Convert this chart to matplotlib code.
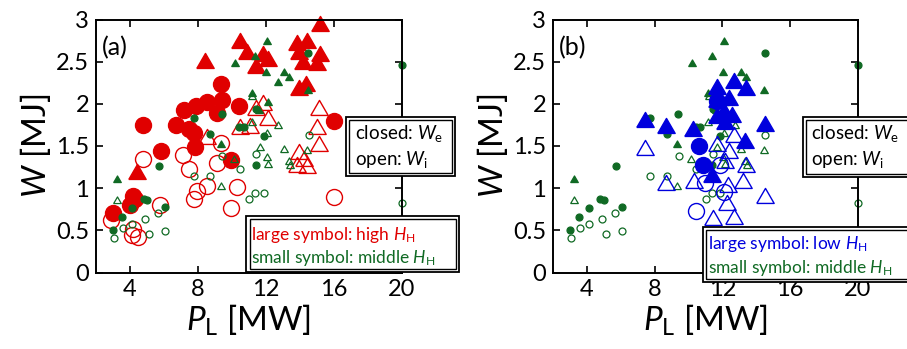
import matplotlib
matplotlib.use("Agg")
import matplotlib.pyplot as plt
from matplotlib.patches import Rectangle

plt.rcParams['font.family'] = ['Lato', 'DejaVu Sans']
plt.rcParams['mathtext.fontset'] = 'custom'
plt.rcParams['mathtext.rm'] = 'Lato'
plt.rcParams['mathtext.it'] = 'Lato:italic'

# ---- data: P_L [MW], W [MJ] ----
# high H_H (panel a, red)
hi_tri_c_x = [15.17, 10.46, 8.45, 10.92, 11.85, 12.16, 11.45, 13.82, 14.43, 13.98, 14.2, 15.17, 15.03, 13.98, 14.37, 4.4]
hi_tri_c_w = [2.95, 2.75, 2.51, 2.62, 2.59, 2.53, 2.45, 2.72, 2.75, 2.62, 2.5, 2.59, 2.49, 2.19, 2.24, 1.19]
hi_cir_c_x = [9.34, 9.44, 8.55, 7.91, 7.16, 10.42, 9.14, 4.75, 6.73, 7.46, 7.75, 5.82, 7.85, 16.0, 9.93, 4.2, 3.0, 4.3, 4.0]
hi_cir_c_w = [2.24, 2.04, 2.02, 1.97, 1.93, 1.97, 1.89, 1.75, 1.75, 1.70, 1.65, 1.44, 1.49, 1.80, 1.33, 0.91, 0.70, 0.87, 0.80]
hi_cir_o_x = [4.79, 7.12, 9.34, 7.46, 9.14, 8.55, 7.95, 7.75, 10.3, 9.93, 16.05, 2.9, 4.1, 4.5, 5.8, 4.2]
hi_cir_o_w = [1.34, 1.39, 1.54, 1.23, 1.30, 1.03, 0.97, 0.87, 1.01, 0.76, 0.89, 0.62, 0.44, 0.42, 0.80, 0.52]
hi_tri_o_x = [11.83, 12.15, 11.06, 15.14, 15.0, 15.14, 13.96, 14.25, 13.86, 14.45, 10.5, 8.55, 11.4]
hi_tri_o_w = [2.01, 1.83, 1.74, 1.95, 1.72, 1.52, 1.43, 1.35, 1.28, 1.26, 1.73, 1.61, 1.95]

# low H_H (panel b, blue)
lo_tri_c_x = [11.69, 12.71, 13.4, 12.37, 11.69, 12.08, 12.57, 11.69, 12.18, 7.4, 8.67, 10.27, 14.49, 13.32, 11.39]
lo_tri_c_w = [2.20, 2.27, 2.19, 2.07, 2.05, 1.91, 1.87, 1.85, 1.78, 1.81, 1.74, 1.70, 1.76, 1.56, 1.16]
lo_cir_c_x = [10.6, 10.85, 11.69]
lo_cir_c_w = [1.50, 1.27, 2.03]
lo_cir_o_x = [10.45, 10.95, 12.08, 11.85]
lo_cir_o_w = [0.73, 1.06, 0.95, 1.28]
lo_tri_o_x = [7.4, 11.69, 12.71, 12.37, 12.14, 13.4, 8.69, 10.3, 12.31, 13.22, 14.49, 12.28, 12.67, 11.45]
lo_tri_o_w = [1.48, 1.52, 1.63, 1.44, 1.32, 1.28, 1.06, 1.08, 1.04, 1.08, 0.91, 0.83, 0.66, 0.65]

# middle H_H (both panels, green)
mid_cir_c_x = [14.5, 7.75, 9.4, 11.45, 10.42, 10.7, 11.87, 8.74, 5.7, 11.4, 4.8, 5.0, 4.1, 3.55, 6.07, 3.0, 20.0]
mid_cir_c_w = [2.6, 1.83, 1.88, 1.94, 1.72, 1.72, 1.62, 1.64, 1.26, 1.28, 0.87, 0.86, 0.76, 0.66, 0.78, 0.50, 2.46]
mid_tri_c_x = [12.1, 10.19, 11.37, 12.04, 13.09, 13.39, 12.75, 14.47, 11.17, 12.16, 9.34, 3.25, 11.6]
mid_tri_c_w = [2.74, 2.49, 2.57, 2.38, 2.38, 2.32, 2.26, 2.16, 2.13, 2.02, 1.52, 1.11, 1.93]
mid_tri_o_x = [11.21, 12.75, 11.17, 11.65, 12.06, 13.09, 12.14, 13.35, 13.43, 14.43, 10.13, 12.1, 3.25, 9.34]
mid_tri_o_w = [2.09, 1.75, 1.78, 1.49, 1.37, 1.46, 1.29, 1.32, 1.27, 1.45, 1.35, 1.65, 0.86, 1.02]
mid_cir_o_x = [14.53, 11.45, 9.43, 10.46, 7.75, 8.74, 11.37, 11.87, 11.0, 5.68, 4.89, 3.57, 4.14, 3.05, 5.1, 6.07, 20.0]
mid_cir_o_w = [1.63, 1.40, 1.38, 1.23, 1.15, 1.15, 0.94, 0.94, 0.87, 0.71, 0.63, 0.53, 0.57, 0.41, 0.46, 0.49, 0.83]

xticks = [4, 8, 12, 16, 20]
yticks = [0, 0.5, 1, 1.5, 2, 2.5, 3]
yticklabels = ['0', '0.5', '1', '1.5', '2', '2.5', '3']

RED = '#e00000'
BLUE = '#0000dd'
GREEN = '#106a24'

# equilateral triangle marker
TRI = [(-1, -0.8), (1, -0.8), (0, 0.93), (-1, -0.8)]

W, H = 907, 349
fig = plt.figure(figsize=(W / 100, H / 100), dpi=100)


def px(x0, y0, x1, y1):
    # pixel box -> figure fraction rect
    return [x0 / W, 1 - y1 / H, (x1 - x0) / W, (y1 - y0) / H]


ax_a = fig.add_axes(px(96, 19.5, 401.5, 272.5))
ax_b = fig.add_axes(px(553, 19.5, 858, 272.5))


def big(ax, x, y, m, c, filled):
    ax.plot(x, y, linestyle='none', marker=TRI if m == '^' else 'o', ms=12.5 if m == '^' else 11.5,
            mfc=c if filled else 'none', mec=c, mew=1.0, clip_on=False)


def small(ax, x, y, m, filled):
    ax.plot(x, y, linestyle='none', marker=TRI if m == '^' else 'o', ms=5.5 if m == '^' else 5,
            mfc=GREEN if filled else 'none', mec=GREEN, mew=0.9, clip_on=False)


def greens(ax):
    small(ax, mid_cir_c_x, mid_cir_c_w, 'o', True)
    small(ax, mid_tri_c_x, mid_tri_c_w, '^', True)
    small(ax, mid_tri_o_x, mid_tri_o_w, '^', False)
    small(ax, mid_cir_o_x, mid_cir_o_w, 'o', False)


# panel a: red first, green on top
big(ax_a, hi_cir_o_x, hi_cir_o_w, 'o', RED, False)
big(ax_a, hi_tri_o_x, hi_tri_o_w, '^', RED, False)
big(ax_a, hi_cir_c_x, hi_cir_c_w, 'o', RED, True)
big(ax_a, hi_tri_c_x, hi_tri_c_w, '^', RED, True)
greens(ax_a)

# panel b: green first, blue on top
greens(ax_b)
big(ax_b, lo_cir_o_x, lo_cir_o_w, 'o', BLUE, False)
big(ax_b, lo_tri_o_x, lo_tri_o_w, '^', BLUE, False)
big(ax_b, lo_cir_c_x, lo_cir_c_w, 'o', BLUE, True)
big(ax_b, lo_tri_c_x, lo_tri_c_w, '^', BLUE, True)

for ax, lab in [(ax_a, '(a)'), (ax_b, '(b)')]:
    ax.set_xlim(2, 20)
    ax.set_ylim(0, 3)
    ax.set_xticks(xticks)
    ax.set_yticks(yticks)
    ax.set_yticklabels(yticklabels)
    ax.tick_params(direction='in', top=True, right=True, length=5, width=1.2,
                   labelsize=17, pad=5)
    for s in ax.spines.values():
        s.set_linewidth(1.4)
    ax.set_xlabel('$P_{\\rm L}$ [MW]', fontsize=24, labelpad=2)
    ax.set_ylabel('$W$ [MJ]', fontsize=24, labelpad=2)
    ax.text(0.02, 0.935, lab, transform=ax.transAxes, fontsize=18, va='top', ha='left')


def box(x0, y0, x1, y1):
    fig.add_artist(Rectangle((x0 / W, 1 - y1 / H), (x1 - x0) / W, (y1 - y0) / H,
                             transform=fig.transFigure, fc='white', ec='black', lw=1.3, zorder=5))
    g = 3
    fig.add_artist(Rectangle(((x0 + g) / W, 1 - (y1 - g) / H), (x1 - x0 - 2 * g) / W, (y1 - y0 - 2 * g) / H,
                             transform=fig.transFigure, fc='none', ec='black', lw=1.0, zorder=5))


def ftext(x, y, s, c='black', size=13):
    fig.text(x / W, 1 - y / H, s, color=c, fontsize=size, va='center', ha='left', zorder=6)


# closed/open boxes
box(346, 117, 455, 176)
ftext(355, 133, 'closed: $W_{\\rm e}$', size=13.5)
ftext(355, 160, 'open: $W_{\\rm i}$', size=13.5)
box(803, 117, 930, 177)
ftext(811, 133, 'closed: $W_{\\rm e}$', size=13.5)
ftext(811, 160, 'open: $W_{\\rm i}$', size=13.5)

# H_H boxes
box(246.5, 216, 459, 272)
ftext(251, 235, 'large symbol: high $H_{\\rm H}$', RED, 12.5)
ftext(251, 258, 'small symbol: middle $H_{\\rm H}$', GREEN, 12.5)
box(703, 227, 930, 282)
ftext(708, 244, 'large symbol: low $H_{\\rm H}$', BLUE, 12.5)
ftext(708, 268, 'small symbol: middle $H_{\\rm H}$', GREEN, 12.5)

fig.savefig('out.png', dpi=100)
